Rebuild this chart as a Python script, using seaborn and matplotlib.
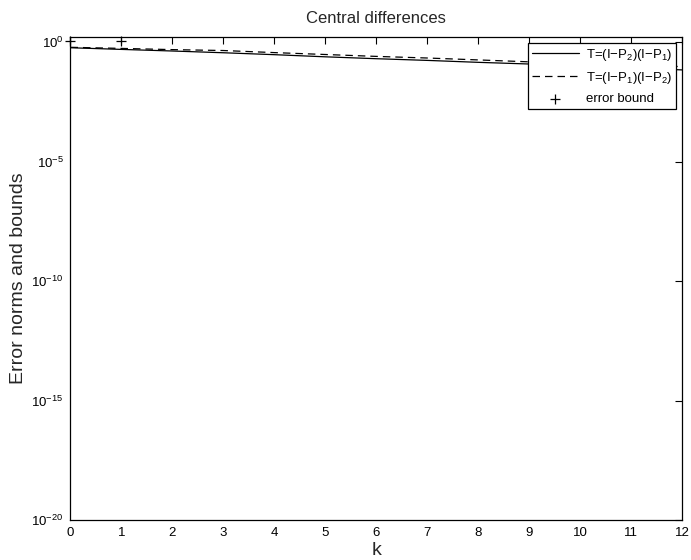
import numpy as np
import pandas as pd
import matplotlib
matplotlib.use("Agg")
import matplotlib.pyplot as plt
import seaborn as sns

# iteration index
k = list(range(13))
# error norms, T=(I-P2)(I-P1)
err_21 = [0.575, 0.49, 0.42, 0.355, 0.295, 0.24, 0.20, 0.17, 0.141, 0.12, 0.10, 0.083, 0.068]
# error norms, T=(I-P1)(I-P2)
err_12 = [0.60, 0.54, 0.48, 0.44, 0.36, 0.30, 0.25, 0.214, 0.178, 0.148, 0.132, 0.112, 0.093]
# error bound (only the first points fall inside the axes)
bound_k = [0, 1]
bound = [1.1, 1.1]

y_ticks = [1e-20, 1e-15, 1e-10, 1e-5, 1e0]
y_tick_labels = [r'$10^{-20}$', r'$10^{-15}$', r'$10^{-10}$', r'$10^{-5}$', r'$10^{0}$']

sns.set_theme(style="white")
plt.rcParams['font.family'] = ['Liberation Sans', 'DejaVu Sans']
plt.rcParams['mathtext.fontset'] = 'custom'
plt.rcParams['mathtext.rm'] = 'Liberation Sans'
plt.rcParams['mathtext.it'] = 'Liberation Sans:italic'
plt.rcParams['mathtext.bf'] = 'Liberation Sans:bold'

df = pd.DataFrame({'k': k, 'e21': err_21, 'e12': err_12})
bdf = pd.DataFrame({'k': bound_k, 'b': bound})

fig = plt.figure(figsize=(6.91, 5.6), dpi=100)
ax = fig.add_axes([0.102, 0.0714, 0.885, 0.8631])

sns.lineplot(data=df, x='k', y='e21', ax=ax, color='black', linewidth=0.9,
             errorbar=None, label=r'T=(I$-$P$_2$)(I$-$P$_1$)')
sns.lineplot(data=df, x='k', y='e12', ax=ax, color='black', linewidth=0.9,
             errorbar=None, linestyle='--', label=r'T=(I$-$P$_1$)(I$-$P$_2$)')
sns.scatterplot(data=bdf, x='k', y='b', ax=ax, marker='+', color='black',
                s=45, linewidth=0.9, label='error bound')
ax.lines[1].set_dashes((6, 4))
for c in ax.collections:
    c.set_clip_on(False)

ax.set_yscale('log')
ax.set_xlim(0, 12)
ax.set_ylim(1e-20, 1.67)
ax.set_xticks(range(13))
ax.set_yticks(y_ticks)
ax.set_yticklabels(y_tick_labels)
ax.minorticks_off()
ax.tick_params(axis='both', which='major', direction='in', length=5, width=0.8,
               top=True, right=True, labelsize=9.5, colors='black', pad=5)
for s in ax.spines.values():
    s.set_color('black')
    s.set_linewidth(0.9)

ax.set_title('Central differences', fontsize=12, pad=10)
ax.set_xlabel('k', fontsize=14, labelpad=2)
ax.set_ylabel('Error norms and bounds', fontsize=14, labelpad=3)

leg = ax.legend(loc='upper right', fontsize=9.5, frameon=True, fancybox=False,
                edgecolor='black', handlelength=3.6, borderaxespad=0.45,
                labelspacing=0.55, borderpad=0.3, handletextpad=0.5)
leg.get_frame().set_linewidth(0.9)
leg.get_frame().set_alpha(1)
for t in leg.get_texts():
    t.set_color('black')

fig.savefig('out.png', dpi=100)
